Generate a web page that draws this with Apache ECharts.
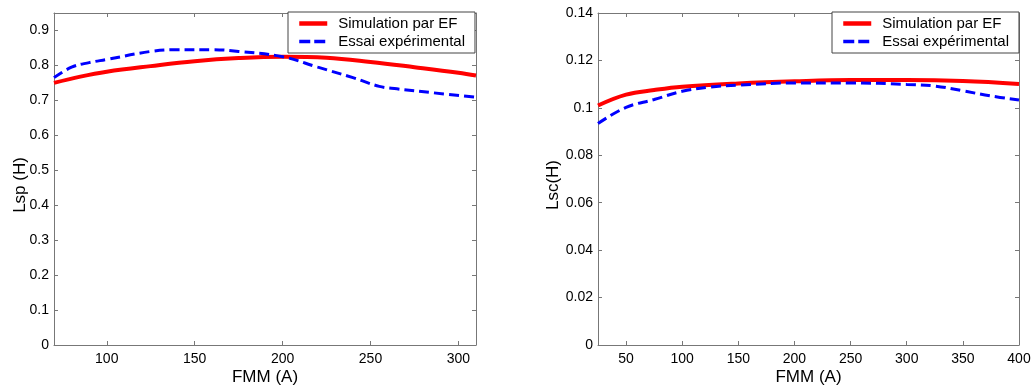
<!DOCTYPE html>
<html><head><meta charset="utf-8">
<script src="https://cdn.jsdelivr.net/npm/echarts@6/dist/echarts.min.js"></script>
<style>html,body{margin:0;padding:0;background:#fff}#c{width:1034px;height:387px}</style>
</head><body><div id="c"></div>
<script>
// Left panel: Lsp (H) vs FMM (A)
const leftSimX = [70, 85, 100, 125, 150, 175, 200, 225, 250, 275, 300, 310];
const leftSimY = [0.750, 0.768, 0.782, 0.798, 0.812, 0.821, 0.825, 0.822, 0.810, 0.795, 0.779, 0.771];
const leftExpX = [70, 80, 90, 100, 125, 140, 160, 175, 200, 220, 240, 255, 265, 285, 310];
const leftExpY = [0.765, 0.795, 0.808, 0.817, 0.840, 0.845, 0.845, 0.840, 0.825, 0.795, 0.765, 0.740, 0.733, 0.722, 0.709];
const leftXTicks = [100, 150, 200, 250, 300];
const leftYTicks = [0, 0.1, 0.2, 0.3, 0.4, 0.5, 0.6, 0.7, 0.8, 0.9];

// Right panel: Lsc(H) vs FMM (A)
const rightSimX = [25, 50, 75, 100, 150, 200, 250, 300, 350, 400];
const rightSimY = [0.1010, 0.1056, 0.1075, 0.1089, 0.1103, 0.1112, 0.1117, 0.1117, 0.1113, 0.1101];
const rightExpX = [25, 50, 75, 100, 125, 150, 200, 250, 300, 325, 350, 375, 400];
const rightExpY = [0.0934, 0.1002, 0.1035, 0.1070, 0.1088, 0.1096, 0.1105, 0.1105, 0.1099, 0.1092, 0.1072, 0.1050, 0.1033];
const rightXTicks = [50, 100, 150, 200, 250, 300, 350, 400];
const rightYTicks = [0, 0.02, 0.04, 0.06, 0.08, 0.1, 0.12, 0.14];

const seriesNames = ['Simulation par EF', 'Essai expérimental'];
const xName = 'FMM (A)';
const leftYName = 'Lsp (H)';
const rightYName = 'Lsc(H)';

const FONT = '"Liberation Sans", Arial, Helvetica, sans-serif';
const axisGray = '#777';
const zip = (xs, ys) => xs.map((x, i) => [x, ys[i]]);

function mainAxis(type, gridIndex, min, max, ticks, name, nameGap) {
  return {
    type: 'value', gridIndex, min, max, position: type === 'x' ? 'bottom' : 'left',
    name, nameLocation: 'middle', nameGap, nameMoveOverlap: false,
    nameTextStyle: { fontFamily: FONT, fontSize: 17, color: '#000', padding: type === 'x' ? 0 : [0, 12, 0, 0] },
    axisLine: { show: true, lineStyle: { color: axisGray, width: 1 } },
    axisTick: { show: true, inside: true, length: 4, customValues: ticks, lineStyle: { color: axisGray } },
    axisLabel: { show: true, customValues: ticks, fontFamily: FONT, fontSize: 14, color: '#000', margin: type === 'x' ? 7 : 5,
      formatter: v => String(v) },
    splitLine: { show: false }
  };
}
function mirrorAxis(type, gridIndex, min, max, ticks) {
  return {
    type: 'value', gridIndex, min, max, position: type === 'x' ? 'top' : 'right',
    axisLine: { show: true, onZero: false, lineStyle: { color: axisGray, width: 1 } },
    axisTick: { show: true, inside: true, length: 4, customValues: ticks, lineStyle: { color: axisGray } },
    axisLabel: { show: false, customValues: ticks },
    splitLine: { show: false }
  };
}

const simStyle = { color: '#ff0000', width: 4, type: 'solid' };
const expStyle = { color: '#0000ff', width: 3, type: [10, 5] };

function legend(left) {
  return {
    left, top: 12, orient: 'vertical',
    data: [
      { name: seriesNames[0], lineStyle: { width: 4.5 } },
      { name: seriesNames[1], lineStyle: { width: 3.5, type: [11, 4] } }
    ],
    itemWidth: 28, itemHeight: 14, itemGap: 3,
    itemStyle: { opacity: 0 },
    padding: [4, 10, 4, 9],
    borderColor: '#444', borderWidth: 1, backgroundColor: '#fff', borderRadius: 0,
    textStyle: { fontFamily: FONT, fontSize: 15, color: '#000', padding: [0, 0, 0, 6] },
    selectedMode: false
  };
}

const option = {
  animation: false,
  backgroundColor: '#fff',
  grid: [
    { left: 54, right: 558, top: 13, bottom: 42, containLabel: false, outerBoundsMode: 'none' },
    { left: 598, right: 15, top: 13, bottom: 42, containLabel: false, outerBoundsMode: 'none' }
  ],
  xAxis: [
    mainAxis('x', 0, 70, 310, leftXTicks, xName, 24),
    mainAxis('x', 1, 25, 400, rightXTicks, xName, 24),
    mirrorAxis('x', 0, 70, 310, leftXTicks),
    mirrorAxis('x', 1, 25, 400, rightXTicks)
  ],
  yAxis: [
    mainAxis('y', 0, 0, 0.95, leftYTicks, leftYName, 25),
    mainAxis('y', 1, 0, 0.14, rightYTicks, rightYName, 36),
    mirrorAxis('y', 0, 0, 0.95, leftYTicks),
    mirrorAxis('y', 1, 0, 0.14, rightYTicks)
  ],
  legend: [legend(288), legend(832)],
  series: [
    { name: seriesNames[0], type: 'line', xAxisIndex: 0, yAxisIndex: 0, data: zip(leftSimX, leftSimY), smooth: 0.4, symbol: 'none', lineStyle: simStyle, itemStyle: { color: '#ff0000' }, z: 2 },
    { name: seriesNames[1], type: 'line', xAxisIndex: 0, yAxisIndex: 0, data: zip(leftExpX, leftExpY), smooth: 0.4, symbol: 'none', lineStyle: expStyle, itemStyle: { color: '#0000ff' }, z: 3 },
    { name: seriesNames[0], type: 'line', xAxisIndex: 1, yAxisIndex: 1, data: zip(rightSimX, rightSimY), smooth: 0.4, symbol: 'none', lineStyle: simStyle, itemStyle: { color: '#ff0000' }, z: 2 },
    { name: seriesNames[1], type: 'line', xAxisIndex: 1, yAxisIndex: 1, data: zip(rightExpX, rightExpY), smooth: 0.4, symbol: 'none', lineStyle: expStyle, itemStyle: { color: '#0000ff' }, z: 3 }
  ]
};
const chart = echarts.init(document.getElementById('c'), null, { renderer: 'canvas' });
chart.setOption(option);
</script></body></html>
